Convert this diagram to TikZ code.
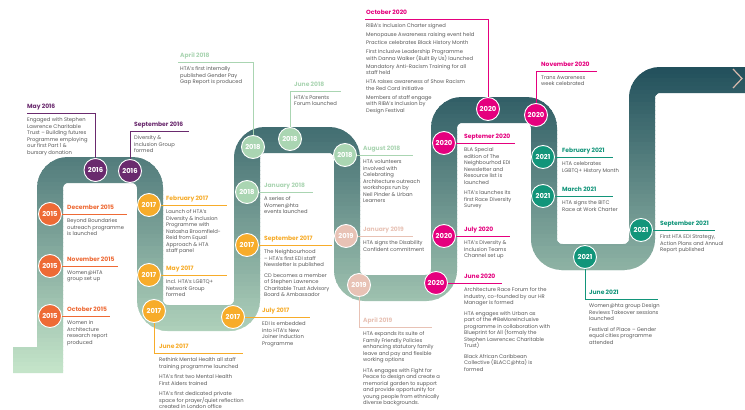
\documentclass[tikz,border=0pt]{standalone}
\usepackage{fontspec}
\setmainfont{Poppins}
\definecolor{c15}{HTML}{EE6A35}
\definecolor{c16}{HTML}{6A2A6E}
\definecolor{c17}{HTML}{F7AC2A}
\definecolor{c18}{HTML}{AAD5B2}
\definecolor{c19}{HTML}{E8C2B5}
\definecolor{c20}{HTML}{E5007E}
\definecolor{c21}{HTML}{12957A}
\definecolor{bodygrey}{HTML}{575757}
\definecolor{banddark}{HTML}{22505C}
\definecolor{bandlight}{HTML}{C6E6CA}
\definecolor{chev}{HTML}{D8B9AC}
\tikzset{
  yr/.style={circle, draw=white, line width=0.9pt, minimum size=23pt, inner sep=0pt, text=white, font=\bfseries\fontsize{6.8}{7}\selectfont},
  hdr/.style={anchor=base west, inner sep=0pt, font=\bfseries\fontsize{6}{7}\selectfont},
  bdy/.style={anchor=north west, inner sep=0pt, align=left, text=bodygrey, font=\fontsize{5.2}{6.5}\selectfont},
  cn/.style={draw=#1, line width=0.8pt},
}
\newcommand\drawband[1]{\draw[line width=26pt, color=#1] (13,360) -- (50,360) [rounded corners=18pt] -- (50,170) -- (150,170) -- (150,318) -- (247,318) -- (247,140) -- (347,140) -- (347,288) -- (444,288) -- (444,110) -- (544,110) -- (544,257) -- (642,257) -- (642,80) -- (770,80);}
\newcommand\evt[6]{%
  \node[hdr, text=#4] (#1h) at ({#2},{#3-4.5}) {#5};
  \node[bdy] (#1b) at ({#2},{#3+4.5}) {#6};
}
\begin{document}
\begin{tikzpicture}[x=1pt,y=-1pt]
\useasboundingbox (0,0) rectangle (745,410);
\fill[white] (0,0) rectangle (745,410);
% band with vertical gradient
\foreach \i in {0,...,79}{
  \pgfmathsetmacro\ya{62+4*\i}
  \pgfmathsetmacro\yb{\ya+4.6}
  \pgfmathtruncatemacro\pc{max(0,min(100,(\ya+2-67)/306*100))}
  \begin{scope}
    \clip (-5,\ya) rectangle (780,\yb);
    \drawband{bandlight!\pc!banddark}
  \end{scope}
}
% chevron
\coordinate (ch1) at (733,69);
\coordinate (ch2) at (742,78.5);
\coordinate (ch3) at (733,88);
\draw[chev, line width=1.2pt] (ch1) -- (ch2) -- (ch3);
% circles
\node[yr,fill=c16] (P1) at (95.5,170) {2016};
\node[yr,fill=c16] (P2) at (130,171) {2016};
\node[yr,fill=c15] (O1) at (50,214) {2015};
\node[yr,fill=c15] (O2) at (50,266) {2015};
\node[yr,fill=c15] (O3) at (50,316) {2015};
\node[yr,fill=c17] (Y1) at (149,205) {2017};
\node[yr,fill=c17] (Y2) at (149,275) {2017};
\node[yr,fill=c17] (Y3) at (154,311) {2017};
\node[yr,fill=c17] (Y4) at (233,317) {2017};
\node[yr,fill=c17] (Y5) at (247,245) {2017};
\node[yr,fill=c18] (G1) at (247,192) {2018};
\node[yr,fill=c18] (G2) at (253,147) {2018};
\node[yr,fill=c18] (G3) at (290,139) {2018};
\node[yr,fill=c18] (G4) at (345,155) {2018};
\node[yr,fill=c19] (R1) at (346,236) {2019};
\node[yr,fill=c19] (R2) at (359,285) {2019};
\node[yr,fill=c20] (M1) at (488,109) {2020};
\node[yr,fill=c20] (M2) at (536,115) {2020};
\node[yr,fill=c20] (M3) at (444,143) {2020};
\node[yr,fill=c20] (M4) at (444,236) {2020};
\node[yr,fill=c20] (M5) at (436,283) {2020};
\node[yr,fill=c21] (T1) at (543,157) {2021};
\node[yr,fill=c21] (T2) at (543,196) {2021};
\node[yr,fill=c21] (T3) at (641,230) {2021};
\node[yr,fill=c21] (T4) at (585,257) {2021};
% connector ends
\coordinate (Ae) at (27,113);
\coordinate (Be) at (189,131);
\coordinate (Ce) at (127,214);
\coordinate (De) at (118,266);
\coordinate (Ee) at (110,316);
\coordinate (Fe) at (227,205);
\coordinate (Ge) at (227,275);
\coordinate (He) at (243,353);
\coordinate (Ie) at (310,317);
\coordinate (Je) at (332,245);
\coordinate (Ke) at (313,192);
\coordinate (Le) at (178,62);
\coordinate (Me) at (341,91);
\coordinate (Ne) at (413,155);
\coordinate (Oe) at (413,236);
\coordinate (Pe) at (432,327);
\coordinate (Qe) at (365,19);
\coordinate (Re) at (597,71);
\coordinate (Se) at (515,143);
\coordinate (Te) at (510,236);
\coordinate (Ue) at (502,283);
\coordinate (Ve) at (613,157);
\coordinate (We) at (613,196);
\coordinate (Xe) at (715,230);
\coordinate (Ye) at (658,299);
% connectors
\draw[cn=c16] (P1.north) |- (Ae);
\draw[cn=c16] (P2.north) |- (Be);
\draw[cn=c15] (O1.east) -- (Ce);
\draw[cn=c15] (O2.east) -- (De);
\draw[cn=c15] (O3.east) -- (Ee);
\draw[cn=c17] (Y1.east) -- (Fe);
\draw[cn=c17] (Y2.east) -- (Ge);
\draw[cn=c17] (Y3.south) |- (He);
\draw[cn=c17] (Y4.east) -- (Ie);
\draw[cn=c17] (Y5.east) -- (Je);
\draw[cn=c18] (G1.east) -- (Ke);
\draw[cn=c18] (G2.north) |- (Le);
\draw[cn=c18] (G3.north) |- (Me);
\draw[cn=c18] (G4.east) -- (Ne);
\draw[cn=c19] (R1.east) -- (Oe);
\draw[cn=c19] (R2.south) |- (Pe);
\draw[cn=c20] (M1.north) |- (Qe);
\draw[cn=c20] (M2.north) |- (Re);
\draw[cn=c20] (M3.east) -- (Se);
\draw[cn=c20] (M4.east) -- (Te);
\draw[cn=c20] (M5.east) -- (Ue);
\draw[cn=c21] (T1.east) -- (Ve);
\draw[cn=c21] (T2.east) -- (We);
\draw[cn=c21] (T3.east) -- (Xe);
\draw[cn=c21] (T4.south) |- (Ye);
% texts
\evt{A}{27}{113}{c16}{May 2016}{Engaged with Stephen\\Lawrence Charitable\\Trust – Building futures\\Programme employing\\our first Part 1 \&\\bursary donation}
\evt{B}{134}{131}{c16}{September 2016}{Diversity \&\\Inclusion Group\\formed}
\evt{C}{67}{214}{c15}{December 2015}{Beyond Boundaries\\outreach programme\\is launched}
\evt{D}{67}{266}{c15}{November 2015}{Women@HTA\\group set up}
\evt{E}{67}{316}{c15}{October 2015}{Women in\\Architecture\\research report\\produced}
\evt{F}{166}{205}{c17}{February 2017}{Launch of HTA’s\\Diversity \& Inclusion\\Programme with\\Natasha Broomfield-\\Reid from Equal\\Approach \& HTA\\staff panel}
\evt{G}{166}{275}{c17}{May 2017}{Incl. HTA’s LGBTQ+\\Network Group\\formed}
\evt{H}{159}{353}{c17}{June 2017}{Rethink Mental Health all staff\\training programme launched\\[4pt]HTA’s first two Mental Health\\First Aiders trained\\[4pt]HTA’s first dedicated private\\space for prayer/quiet reflection\\created in London office}
\evt{I}{262}{317}{c17}{July 2017}{EDI is embedded\\into HTA’s New\\Joiner Induction\\Programme}
\evt{J}{264}{245}{c17}{September 2017}{The Neighbourhood\\– HTA’s first EDI staff\\Newsletter is published\\[4pt]CD becomes a member\\of Stephen Lawrence\\Charitable Trust Advisory\\Board \& Ambassador}
\evt{K}{264}{192}{c18}{January 2018}{A series of\\Women@hta\\events launched}
\evt{L}{180}{62}{c18}{April 2018}{HTA’s first internally\\published Gender Pay\\Gap Report is produced}
\evt{M}{294}{91}{c18}{June 2018}{HTA’s Parents\\Forum launched}
\evt{N}{363}{155}{c18}{August 2018}{HTA volunteers\\involved with\\Celebrating\\Architecture outreach\\workshops run by\\Neil Pinder \& Urban\\Learners}
\evt{O}{363}{236}{c19}{January 2019}{HTA signs the Disability\\Confident commitment}
\evt{P}{363}{327}{c19}{April 2019}{HTA expands its suite of\\Family Friendly Policies\\enhancing statutory family\\leave and pay and flexible\\working options\\[4pt]HTA engages with Fight for\\Peace to design and create a\\memorial garden to support\\and provide opportunity for\\young people from ethnically\\diverse backgrounds.}
\evt{Q}{366}{19}{c20}{October 2020}{RIBA’s Inclusion Charter signed\\[2.5pt]Menopause Awareness raising event held\\[1.5pt]Practice celebrates Black History Month\\[2.5pt]First Inclusive Leadership Programme\\with Danna Walker (Built By Us) launched\\[1.5pt]Mandatory Anti-Racism Training for all\\staff held\\[2.5pt]HTA raises awareness of Show Racism\\the Red Card initiative\\[2.5pt]Members of staff engage\\with RIBA’s Inclusion by\\Design Festival}
\evt{R}{541}{71}{c20}{November 2020}{Trans Awareness\\week celebrated}
\evt{S}{464}{143}{c20}{Septemer 2020}{BLA Special\\edition of The\\Neighbourhod EDI\\Newsletter and\\Resource list is\\launched\\[4pt]HTA’s launches its\\first Race Diversity\\Survey}
\evt{T}{464}{236}{c20}{July 2020}{HTA’s Diversity \&\\Inclusion Teams\\Channel set up}
\evt{U}{464}{283}{c20}{June 2020}{Architecture Race Forum for the\\industry, co-founded by our HR\\Manager is formed\\[4pt]HTA engages with Urban as\\part of the \#BeMoreInclusive\\programme in collaboration with\\Blueprint for All (formaly the\\Stephen Lawrencec Charitable\\Trust)\\[4pt]Black African Caribbean\\Collective (BLACC@hta) is\\formed}
\evt{V}{562}{157}{c21}{February 2021}{HTA celebrates\\LGBTQ+ History Month}
\evt{W}{562}{196}{c21}{March 2021}{HTA signs the BITC\\Race at Work Charter}
\evt{X}{660}{230}{c21}{September 2021}{First HTA EDI Strategy,\\Action Plans and Annual\\Report published}
\evt{Y}{589}{299}{c21}{June 2021}{Women@hta group Design\\Reviews Takeover sessions\\launched\\[4pt]Festival of Place – Gender\\equal cities programme\\attended}
\end{tikzpicture}
\end{document}
